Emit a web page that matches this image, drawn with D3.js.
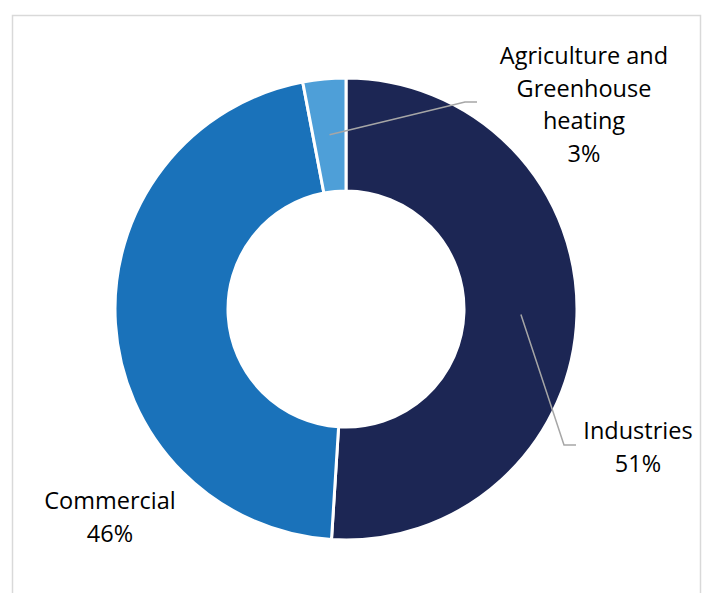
<!DOCTYPE html>
<html>
<head>
<meta charset="utf-8">
<script src="https://cdn.jsdelivr.net/npm/d3@7"></script>
<style>
html,body{margin:0;padding:0;background:#fff;}
svg text{font-family:"Open Sans",sans-serif;fill:#000;}
</style>
</head>
<body>
<svg id="chart" width="704" height="593"></svg>
<script>
const categories = ["Industries", "Commercial", "Agriculture and Greenhouse heating"];
const values = [51, 46, 3];
const labelLines = [["Industries", "51%"], ["Commercial", "46%"], ["Agriculture and", "Greenhouse", "heating", "3%"]];
const colors = ["#1c2654", "#1a72ba", "#4e9fd8"];

const svg = d3.select("#chart");
// frame
svg.append("rect").attr("x", 12.5).attr("y", 15.5).attr("width", 688).attr("height", 600)
  .attr("fill", "none").attr("stroke", "#d9d9d9").attr("stroke-width", 1.5);

const cx = 346, cy = 309, R = 231, r = 118;
const g = svg.append("g").attr("transform", `translate(${cx},${cy})`);
const data = categories.map((c, i) => ({cat: c, value: values[i], color: colors[i], lines: labelLines[i]}));
const pie = d3.pie().value(d => d.value).sort(null);
const arc = d3.arc().innerRadius(r).outerRadius(R);
const arcs = pie(data);
g.selectAll("path").data(arcs).join("path")
  .attr("d", arc).attr("fill", d => d.data.color)
  .attr("stroke", "#fff").attr("stroke-width", 3).attr("stroke-linejoin", "miter");

// leader lines: start point inside the slice, end near label
const leaderArc = d3.arc().innerRadius(175).outerRadius(175);
const leaders = [
  {i: 0, end: [218, 136], hx: 230},
  {i: 2, end: [119, -207], hx: 131}
];
leaders.forEach(L => {
  const a = arcs[L.i];
  const p = leaderArc.centroid(a);
  g.append("polyline")
    .attr("points", [p, L.end, [L.hx, L.end[1]]].map(q => q.join(",")).join(" "))
    .attr("fill", "none").attr("stroke", "#a6a6a6").attr("stroke-width", 1.5);
});

// labels
const labelPos = [[638, 439], [110, 509], [584, 64]];
const lineH = 32.5;
data.forEach((d, i) => {
  const t = svg.append("text").attr("text-anchor", "middle").attr("font-size", 23.5);
  d.lines.forEach((ln, k) => {
    t.append("tspan").attr("x", labelPos[i][0]).attr("y", labelPos[i][1] + k * lineH).text(ln);
  });
});
</script>
</body>
</html>
